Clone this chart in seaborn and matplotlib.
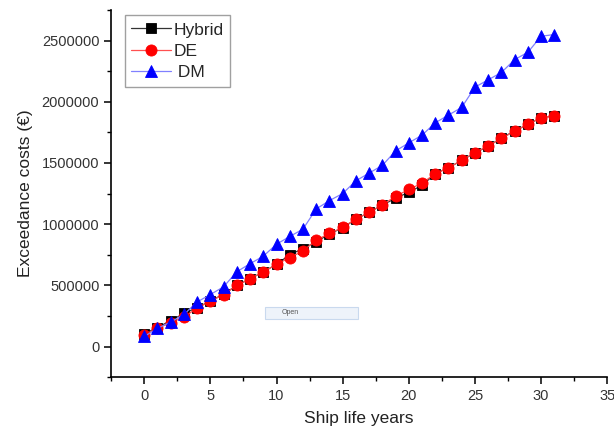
import numpy as np
import pandas as pd
import matplotlib
matplotlib.use("Agg")
import matplotlib.pyplot as plt
from matplotlib.ticker import MultipleLocator, FuncFormatter
from matplotlib.patches import Rectangle
import seaborn as sns

years = list(range(32))

hybrid = [105000, 155000, 212000, 270000, 318000, 372000, 428000, 499000,
          554000, 609000, 672000, 750000, 800000, 855000, 920000, 970000,
          1040000, 1096000, 1157000, 1210000, 1262000, 1316000, 1412000,
          1461000, 1521000, 1582000, 1636000, 1705000, 1760000, 1815000,
          1869000, 1886000]

de = [95000, 150000, 195000, 240000, 315000, 370000, 425000, 499000,
      554000, 609000, 672000, 726000, 781000, 869000, 924000, 973000,
      1042000, 1096000, 1157000, 1228000, 1283000, 1335000, 1412000,
      1461000, 1521000, 1585000, 1639000, 1700000, 1760000, 1817000,
      1869000, 1886000]

dm = [82000, 148000, 200000, 262000, 364000, 425000, 488000, 611000,
      677000, 738000, 836000, 899000, 959000, 1124000, 1192000, 1250000,
      1354000, 1417000, 1480000, 1598000, 1664000, 1727000, 1828000,
      1891000, 1954000, 2119000, 2179000, 2239000, 2344000, 2404000,
      2535000, 2549000]

series_names = ["Hybrid", "DE", " DM"]
series_values = [hybrid, de, dm]
series_colors = ["black", "#ff0000", "#0000ff"]
line_colors = ["#333333", "#ff5050", "#8080ff"]
series_markers = ["s", "o", "^"]
marker_sizes = [6.5, 8, 8.5]

sns.set_style("ticks")
plt.rcParams["font.family"] = ["Liberation Sans", "DejaVu Sans"]

fig = plt.figure(figsize=(6.14, 4.32), dpi=100)
ax = fig.add_axes([0.181, 0.127, 0.808, 0.850])

for name, vals, c, lc, m, ms in zip(series_names, series_values, series_colors,
                                    line_colors, series_markers, marker_sizes):
    df = pd.DataFrame({"year": years, "cost": vals})
    sns.lineplot(data=df, x="year", y="cost", ax=ax, color=lc, linewidth=0.9,
                 marker=m, markersize=ms, markerfacecolor=c,
                 markeredgecolor=c, markeredgewidth=0.6, label=name)

ax.set_xlim(-2.5, 35)
ax.set_ylim(-250000, 2750000)
ax.xaxis.set_major_locator(MultipleLocator(5))
ax.xaxis.set_minor_locator(MultipleLocator(2.5))
ax.yaxis.set_major_locator(MultipleLocator(500000))
ax.yaxis.set_minor_locator(MultipleLocator(250000))
ax.yaxis.set_major_formatter(FuncFormatter(lambda v, p: f"{int(round(v))}"))

for s in ["top", "right"]:
    ax.spines[s].set_visible(False)
for s in ["left", "bottom"]:
    ax.spines[s].set_linewidth(1.2)
    ax.spines[s].set_color("black")

ax.tick_params(which="major", direction="out", length=5, width=1.1,
               labelsize=10.5, labelcolor="#333333", color="black")
ax.tick_params(which="minor", direction="out", length=3, width=1.0,
               color="black")

ax.set_xlabel("Ship life years", fontsize=12.5, color="#222222", labelpad=6)
ax.set_ylabel("Exceedance costs (€)", fontsize=12.5, color="#222222", labelpad=6)

leg = ax.legend(loc="upper left", bbox_to_anchor=(0.027, 0.985), fontsize=12.5,
                frameon=True, fancybox=False, edgecolor="#888888",
                handlelength=2.3, handletextpad=0.1, borderpad=0.4,
                labelspacing=0.35, borderaxespad=0.0)
leg.get_frame().set_linewidth(1.0)

# small "Open" button overlay
btn = Rectangle((265, 432 - 319), 93, 12, transform=None, facecolor="#eef3fa",
                edgecolor="#c9d9ee", linewidth=0.8, zorder=10)
fig.patches.append(btn)
fig.text(290 / 614, 1 - 313 / 432, "Open", fontsize=5, color="#555555",
         va="center", ha="center", zorder=11)

fig.savefig("out.png", dpi=100)
